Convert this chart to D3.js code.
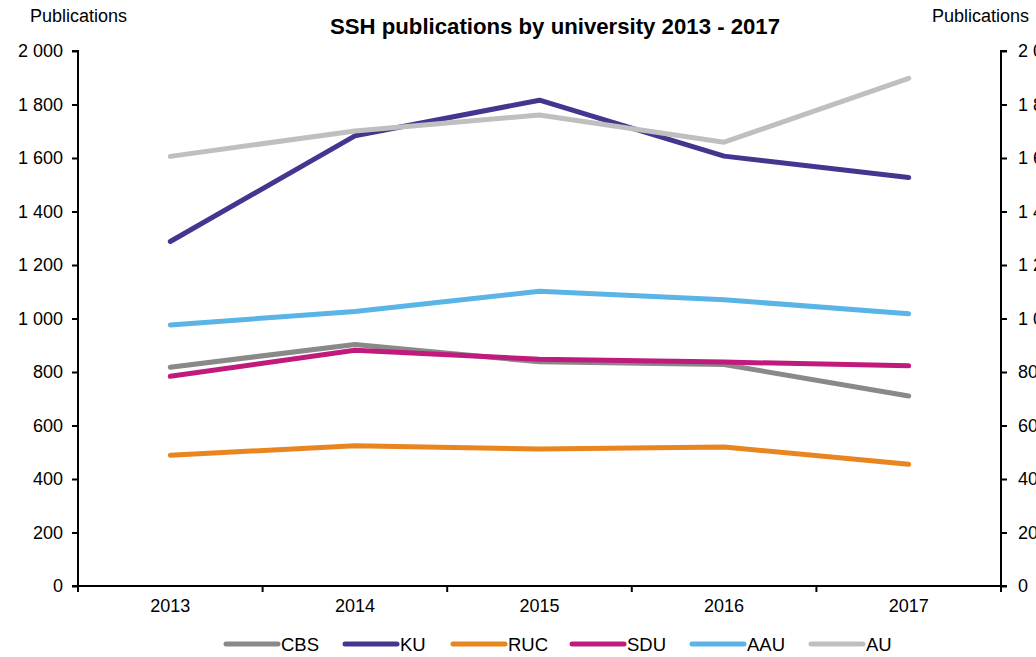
<!DOCTYPE html>
<html><head><meta charset="utf-8">
<script src="https://cdn.jsdelivr.net/npm/d3@7/dist/d3.min.js"></script>
<style>body{margin:0;background:#fff;}svg{display:block;font-family:"Liberation Sans",Arial,sans-serif;}</style>
</head><body>
<svg id="c" width="1036" height="657"></svg>
<script>
const years = ["2013","2014","2015","2016","2017"];
const seriesNames = ["CBS","KU","RUC","SDU","AAU","AU"];
const CBS = [818, 903, 838, 828, 710];
const KU  = [1288, 1683, 1816, 1607, 1527];
const RUC = [489, 524, 512, 520, 455];
const SDU = [784, 881, 848, 837, 823];
const AAU = [976, 1026, 1102, 1070, 1018];
const AU  = [1606, 1701, 1761, 1659, 1898];
const yTicks = [0,200,400,600,800,1000,1200,1400,1600,1800,2000];
const colors = ["#898989","#46348f","#e8851f","#c11a7d","#5ab4e6","#bfbfbf"];
const seriesValues = [CBS, KU, RUC, SDU, AAU, AU];

const svg = d3.select("#c");
const L = 78, R = 1001, T = 51, B = 586;
const FS = 18;
const x = d3.scaleBand().domain(years).range([L, R]);
const y = d3.scaleLinear().domain([0, 2000]).range([B, T]);
const fmt = v => d3.format(",")(v).replace(/,/g, " ");

const la = svg.append("g").attr("transform", `translate(${L},0)`)
  .call(d3.axisLeft(y).tickValues(yTicks).tickFormat(fmt).tickSize(6).tickPadding(9));
const ra = svg.append("g").attr("transform", `translate(${R},0)`)
  .call(d3.axisRight(y).tickValues(yTicks).tickFormat(fmt).tickSize(6).tickPadding(11));
const ba = svg.append("g").attr("transform", `translate(0,${B})`)
  .call(d3.axisBottom(x).tickSize(0).tickPadding(13));
const bounds = years.map(d => x(d)).concat([R]);
svg.append("g").selectAll("line").data(bounds).join("line")
  .attr("x1", d => d).attr("x2", d => d).attr("y1", B).attr("y2", B + 6)
  .attr("stroke", "#000").attr("stroke-width", 2);

[la, ra, ba].forEach(g => {
  g.select(".domain").attr("stroke", "#000").attr("stroke-width", 2);
  g.selectAll(".tick line").attr("stroke", "#000").attr("stroke-width", 2);
  g.selectAll(".tick text").attr("font-size", FS).attr("fill", "#000")
    .attr("font-family", '"Liberation Sans",Arial,sans-serif');
});
la.select(".domain").attr("d", `M-6,${T}H0V${B}H-6`);
ra.select(".domain").attr("d", `M6,${T}H0V${B}H6`);
ba.select(".domain").attr("d", `M${L},0H${R}`);

const line = d3.line().x((d, i) => x(years[i]) + x.bandwidth() / 2).y(d => y(d));
svg.append("g").selectAll("path").data(seriesValues).join("path")
  .attr("d", d => line(d)).attr("fill", "none")
  .attr("stroke", (d, i) => colors[i]).attr("stroke-width", 5)
  .attr("stroke-linecap", "round").attr("stroke-linejoin", "round");

svg.append("text").attr("x", 555).attr("y", 34).attr("text-anchor", "middle")
  .attr("font-size", 22.2).attr("font-weight", "bold").text("SSH publications by university 2013 - 2017");
svg.append("text").attr("x", 30).attr("y", 22).attr("font-size", FS).text("Publications");
svg.append("text").attr("x", 932).attr("y", 22).attr("font-size", FS).text("Publications");

const legX = [224, 343, 451, 570, 690, 809];
const lg = svg.append("g").selectAll("g").data(seriesNames).join("g")
  .attr("transform", (d, i) => `translate(${legX[i]},644)`);
lg.append("line").attr("x1", 2).attr("x2", 54).attr("y1", 0).attr("y2", 0)
  .attr("stroke", (d, i) => colors[i]).attr("stroke-width", 5).attr("stroke-linecap", "round");
lg.append("text").attr("x", 57).attr("y", 7).attr("font-size", 18.5).text(d => d);
</script>
</body></html>
